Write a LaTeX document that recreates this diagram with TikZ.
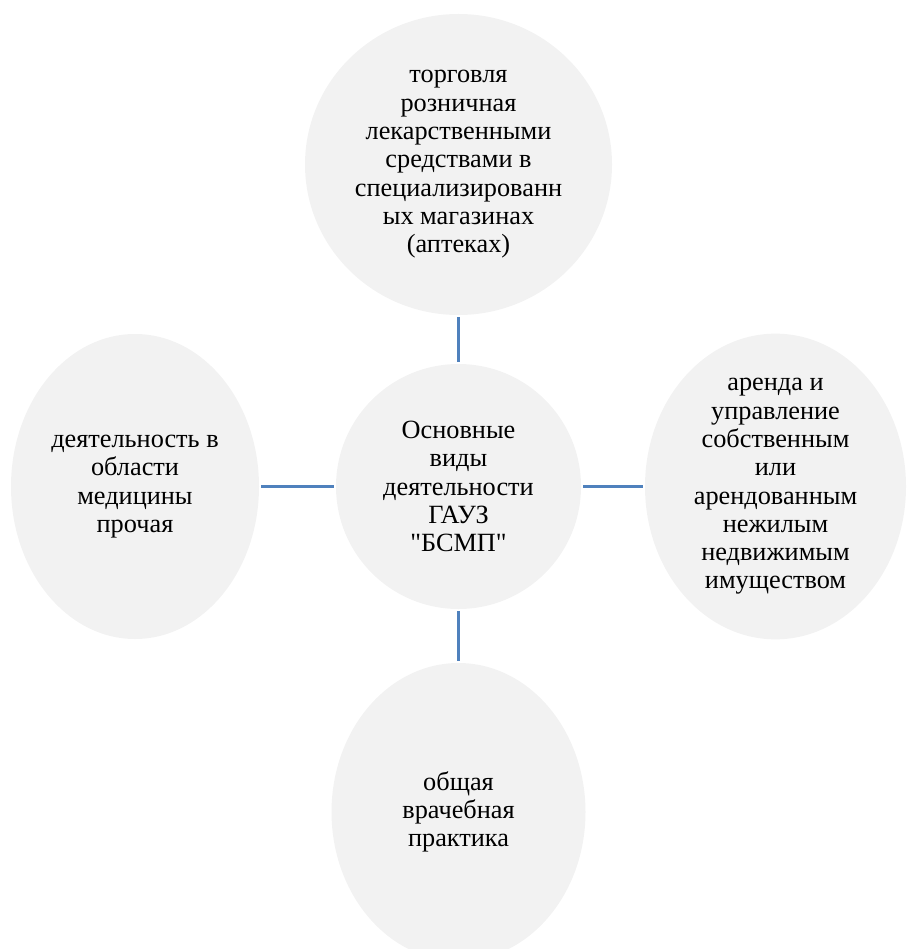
\documentclass[tikz,border=0pt]{standalone}
\usepackage{fontspec}
\setmainfont{LiberationSerif-Regular.ttf}[Ligatures=TeXOff]
\usetikzlibrary{shapes.geometric}
\definecolor{bubblefill}{HTML}{F2F2F2}
\definecolor{linkblue}{HTML}{4F81BD}
\tikzset{
  bubble/.style={ellipse, fill=bubblefill, draw=none, inner sep=0pt, align=center,
    font=\rmfamily\fontsize{26.3}{28.3}\selectfont, text=black},
  link/.style={draw=linkblue, line width=2.5pt, shorten <=2pt, shorten >=2pt}
}
\begin{document}
\begin{tikzpicture}[x=1pt,y=-1pt]
\useasboundingbox (0,0) rectangle (907,949);
\clip (0,0) rectangle (907,949);
\node[bubble, minimum width=307pt, minimum height=301pt] (top) at (458.5,164.5)
  {торговля\\розничная\\лекарственными\\средствами в\\специализированн\\ых магазинах\\(аптеках)};
\node[bubble, minimum width=245pt, minimum height=245pt] (center) at (458.5,486.5)
  {Основные\\виды\\деятельности\\ГАУЗ\\"БСМП"};
\node[bubble, minimum width=248pt, minimum height=305pt] (left) at (135,486.5)
  {деятельность в\\области\\медицины\\прочая};
\node[bubble, minimum width=261pt, minimum height=299pt] (right) at (775.5,486.5)
  {аренда и\\управление\\собственным\\или\\арендованным\\нежилым\\недвижимым\\имуществом};
\node[bubble, minimum width=254pt, minimum height=298pt] (bottom) at (458.5,812)
  {общая\\врачебная\\практика};
\draw[link] (center.north) -- (top.south);
\draw[link] (center.south) -- (bottom.north);
\draw[link] (center.west) -- (left.east);
\draw[link] (center.east) -- (right.west);
\end{tikzpicture}
\end{document}
